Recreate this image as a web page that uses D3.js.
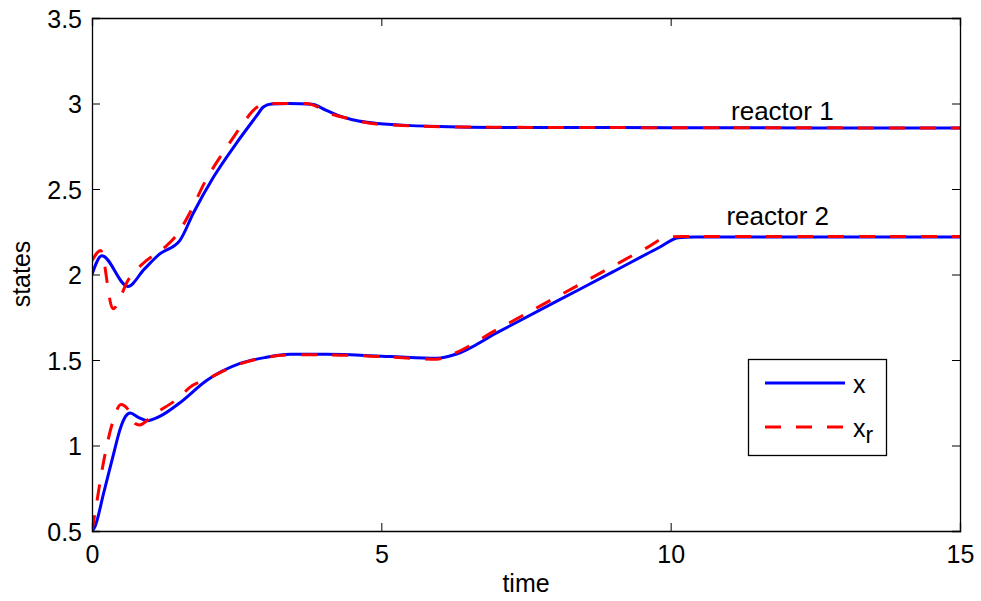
<!DOCTYPE html>
<html>
<head>
<meta charset="utf-8">
<script src="https://cdn.jsdelivr.net/npm/d3@7"></script>
<style>
  body { margin: 0; background: #fff; }
  text { font-family: "Liberation Sans", Arial, sans-serif; fill: #000; }
</style>
</head>
<body>
<svg id="chart" width="981" height="601"></svg>
<script>
// ---- data ----
const xTicks = [0, 5, 10, 15];
const yTicks = [0.5, 1, 1.5, 2, 2.5, 3, 3.5];
const yTickLabels = ["0.5", "1", "1.5", "2", "2.5", "3", "3.5"];

const r1xTime = [0, 0.17, 0.62, 0.9, 1.17, 1.52, 1.75, 2.1, 2.5, 2.85, 2.96, 3.1, 3.4, 3.8, 4.05, 4.25, 4.5, 4.75, 5.3, 6, 7, 8, 10, 15];
const r1xVal  = [2.0, 2.11, 1.93, 2.03, 2.12, 2.20, 2.358, 2.57, 2.77, 2.93, 2.98, 2.997, 3.0, 2.995, 2.96, 2.93, 2.905, 2.89, 2.875, 2.865, 2.86, 2.86, 2.858, 2.857];

const r1rTime = [0, 0.15, 0.36, 0.63, 0.9, 1.26, 1.46, 1.69, 1.95, 2.24, 2.47, 2.59, 2.82, 2.95, 3.1, 3.7, 3.9, 4.06, 4.46, 4.92, 5.5, 6.5, 8, 15];
const r1rVal  = [2.08, 2.14, 1.80, 1.97, 2.07, 2.16, 2.23, 2.36, 2.54, 2.70, 2.815, 2.874, 2.97, 2.995, 3.0, 3.0, 2.98, 2.95, 2.91, 2.88, 2.87, 2.862, 2.86, 2.857];

const r2xTime = [0, 0.05, 0.2, 0.35, 0.5, 0.58, 0.66, 0.8, 0.95, 1.17, 1.52, 1.98, 2.56, 3.0, 3.42, 4.05, 5.15, 5.96, 6.3, 7, 8, 9, 9.8, 10.13, 10.4, 15];
const r2xVal  = [0.5, 0.525, 0.72, 0.92, 1.11, 1.17, 1.19, 1.165, 1.145, 1.17, 1.25, 1.38, 1.48, 1.515, 1.533, 1.533, 1.52, 1.51, 1.535, 1.66, 1.838, 2.015, 2.158, 2.215, 2.22, 2.22];

const r2rTime = [0, 0.05, 0.2, 0.37, 0.5, 0.66, 0.74, 0.82, 1.06, 1.52, 1.69, 2.0, 2.5, 3.0, 3.5, 4.0, 5.0, 5.96, 6.2, 7, 8, 9, 9.6, 9.95, 10.2, 15];
const r2rVal  = [0.5, 0.6, 0.905, 1.15, 1.24, 1.19, 1.13, 1.12, 1.18, 1.285, 1.34, 1.39, 1.47, 1.515, 1.53, 1.53, 1.52, 1.505, 1.53, 1.678, 1.863, 2.048, 2.159, 2.22, 2.222, 2.222];

const annotations = [
  { text: "reactor 1", t: 11.93, v: 2.903 },
  { text: "reactor 2", t: 11.85, v: 2.289 }
];

// ---- layout ----
const svg = d3.select("#chart");
const L = 92, R = 960, T = 18, B = 531;
const x = d3.scaleLinear().domain([0, 15]).range([L, R]);
const y = d3.scaleLinear().domain([0.5, 3.5]).range([B, T]);

svg.append("defs").append("clipPath").attr("id", "clip")
  .append("rect").attr("x", L).attr("y", T).attr("width", R - L).attr("height", B - T);

const line = d3.line().x(d => x(d[0])).y(d => y(d[1])).curve(d3.curveMonotoneX);
const zip = (a, b) => a.map((t, i) => [t, b[i]]);

const g = svg.append("g").attr("clip-path", "url(#clip)");
const blueStyle = p => p.attr("fill", "none").attr("stroke", "#0000ff").attr("stroke-width", 3);
const redStyle = p => p.attr("fill", "none").attr("stroke", "#ff0000").attr("stroke-width", 3).attr("stroke-dasharray", "16,15");

g.append("path").datum(zip(r1xTime, r1xVal)).attr("d", line).call(blueStyle);
g.append("path").datum(zip(r2xTime, r2xVal)).attr("d", line).call(blueStyle);
g.append("path").datum(zip(r1rTime, r1rVal)).attr("d", line).call(redStyle);
g.append("path").datum(zip(r2rTime, r2rVal)).attr("d", line).call(redStyle);

// ---- axes ----
const tickLen = 8;
const axB = svg.append("g").attr("transform", `translate(0,${B})`)
  .call(d3.axisBottom(x).tickValues(xTicks).tickSize(-tickLen).tickPadding(14).tickFormat(d3.format("d")));
const axT = svg.append("g").attr("transform", `translate(0,${T})`)
  .call(d3.axisTop(x).tickValues(xTicks).tickSize(-tickLen).tickFormat(""));
const axL = svg.append("g").attr("transform", `translate(${L},0)`)
  .call(d3.axisLeft(y).tickValues(yTicks).tickSize(-tickLen).tickPadding(10).tickFormat((d, i) => yTickLabels[i]));
const axR = svg.append("g").attr("transform", `translate(${R},0)`)
  .call(d3.axisRight(y).tickValues(yTicks).tickSize(-tickLen).tickFormat(""));

[axB, axT, axL, axR].forEach(a => {
  a.select(".domain").attr("stroke", "#000").attr("stroke-width", 1.3);
  a.selectAll(".tick line").attr("stroke", "#000").attr("stroke-width", 1);
  a.selectAll("text").style("font-size", "25px").style("font-family", "'Liberation Sans', Arial, sans-serif").attr("fill", "#000");
});
axL.selectAll("text").attr("dy", "0.36em");
axB.selectAll("text").attr("dy", "0.71em");

svg.append("text").attr("x", (L + R) / 2).attr("y", 592).attr("text-anchor", "middle")
  .style("font-size", "25px").text("time");
svg.append("text").attr("transform", "translate(30,274) rotate(-90)").attr("text-anchor", "middle")
  .style("font-size", "25px").text("states");

annotations.forEach(a => {
  svg.append("text").attr("x", x(a.t)).attr("y", y(a.v)).attr("text-anchor", "middle")
    .style("font-size", "26px").text(a.text);
});

// ---- legend ----
const lg = svg.append("g");
lg.append("rect").attr("x", 748.5).attr("y", 359.5).attr("width", 138).attr("height", 96)
  .attr("fill", "#fff").attr("stroke", "#000").attr("stroke-width", 1.3);
lg.append("line").attr("x1", 765).attr("x2", 845).attr("y1", 383).attr("y2", 383).call(blueStyle);
lg.append("line").attr("x1", 765).attr("x2", 845).attr("y1", 427).attr("y2", 427).call(redStyle);
lg.append("text").attr("x", 853).attr("y", 393).style("font-size", "25px").text("x");
const t2 = lg.append("text").attr("x", 853).attr("y", 437).style("font-size", "25px");
t2.append("tspan").text("x");
t2.append("tspan").attr("dy", 6).style("font-size", "23px").text("r");
</script>
</body>
</html>
